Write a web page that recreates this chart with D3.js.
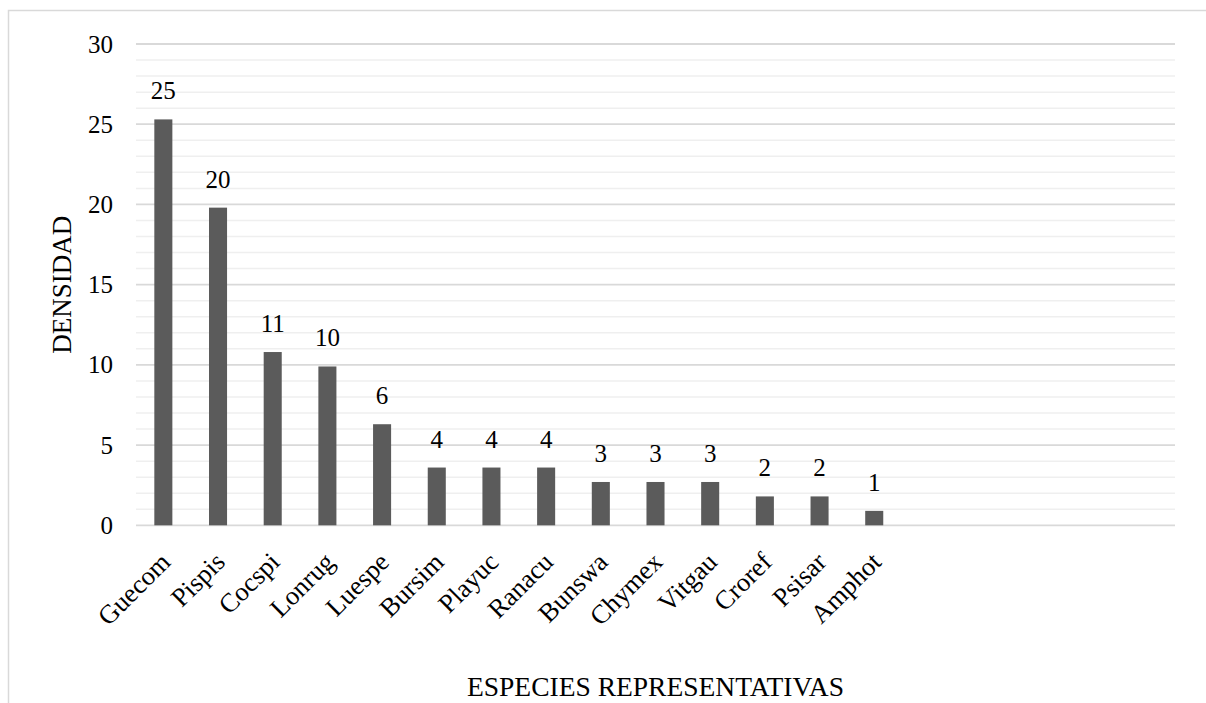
<!DOCTYPE html>
<html>
<head>
<meta charset="utf-8">
<script src="https://cdn.jsdelivr.net/npm/d3@7"></script>
<style>
  html, body { margin: 0; padding: 0; background: #ffffff; }
  svg { display: block; }
  svg text { font-family: "Liberation Serif", "Times New Roman", serif !important; fill: #000; }
</style>
</head>
<body>
<svg id="chart" width="1206" height="703"></svg>
<script>
// Species codes and their density values
const categories = ["Guecom", "Pispis", "Cocspi", "Lonrug", "Luespe", "Bursim", "Playuc",
                    "Ranacu", "Bunswa", "Chymex", "Vitgau", "Croref", "Psisar", "Amphot"];
const densities = [25.3, 19.8, 10.8, 9.9, 6.3, 3.6, 3.6, 3.6, 2.7, 2.7, 2.7, 1.8, 1.8, 0.9];
// Unused category slots left empty at the right end of the axis
const emptySlots = 5;
const yTicks = [0, 5, 10, 15, 20, 25, 30];
const yMinorTicks = d3.range(0, 31, 1);
const yTitle = "DENSIDAD";
const xTitle = "ESPECIES REPRESENTATIVAS";

const serif = "Liberation Serif, Times New Roman, serif";
const svg = d3.select("#chart");
const plot = { left: 136, right: 1175, top: 44, bottom: 525.3 };

// Chart area frame
svg.append("rect")
  .attr("x", 8.5).attr("y", 10.5)
  .attr("width", 1220).attr("height", 720)
  .attr("fill", "none")
  .attr("stroke", "#d9d9d9")
  .attr("stroke-width", 1.5);

const domain = categories.concat(d3.range(emptySlots).map(i => "slot" + i));
const x = d3.scaleBand().domain(domain).range([plot.left, plot.right]).paddingInner(0.67).paddingOuter(0.335);
const y = d3.scaleLinear().domain([0, 30]).range([plot.bottom, plot.top]);

// Minor gridlines
svg.append("g").selectAll("line")
  .data(yMinorTicks.filter(v => v % 5 !== 0))
  .join("line")
  .attr("x1", plot.left).attr("x2", plot.right)
  .attr("y1", d => y(d)).attr("y2", d => y(d))
  .attr("stroke", "#efefef").attr("stroke-width", 1.5);

// Major gridlines
svg.append("g").selectAll("line")
  .data(yTicks)
  .join("line")
  .attr("x1", plot.left).attr("x2", plot.right)
  .attr("y1", d => y(d)).attr("y2", d => y(d))
  .attr("stroke", "#d9d9d9").attr("stroke-width", 1.8);

// Y axis tick labels
const yAxis = d3.axisLeft(y).tickValues(yTicks).tickSize(0).tickPadding(23).tickFormat(d3.format("d"));
const yg = svg.append("g").attr("transform", `translate(${plot.left},0)`).call(yAxis)
  .attr("font-family", serif).attr("font-size", 25);
yg.select(".domain").remove();
yg.selectAll("text").attr("fill", "#000");

// Bars
const data = categories.map((c, i) => ({ name: c, value: densities[i] }));
svg.append("g").selectAll("rect")
  .data(data)
  .join("rect")
  .attr("x", d => x(d.name))
  .attr("width", x.bandwidth())
  .attr("y", d => y(d.value))
  .attr("height", d => y(0) - y(d.value))
  .attr("fill", "#5b5b5b");

// Value labels above bars
svg.append("g").attr("font-family", serif).selectAll("text")
  .data(data)
  .join("text")
  .attr("x", d => x(d.name) + x.bandwidth() / 2)
  .attr("y", d => y(d.value) - 20)
  .attr("text-anchor", "middle")
  .attr("font-size", 25)
  .text(d => d3.format(".0f")(d.value));

// Category labels rotated at 45 degrees
svg.append("g").attr("font-family", serif).selectAll("text")
  .data(categories)
  .join("text")
  .attr("transform", d => `translate(${x(d) + x.bandwidth() / 2 + 2},557) rotate(-45)`)
  .attr("text-anchor", "end")
  .attr("dy", "0.35em")
  .attr("font-size", 26.5)
  .text(d => d);

// Axis titles
svg.append("text")
  .attr("transform", `translate(71,${(plot.top + plot.bottom) / 2}) rotate(-90)`)
  .attr("text-anchor", "middle")
  .attr("font-family", serif)
  .attr("font-size", 27)
  .text(yTitle);

svg.append("text")
  .attr("x", (plot.left + plot.right) / 2)
  .attr("y", 696)
  .attr("text-anchor", "middle")
  .attr("font-family", serif)
  .attr("font-size", 27.5)
  .text(xTitle);
</script>
</body>
</html>
